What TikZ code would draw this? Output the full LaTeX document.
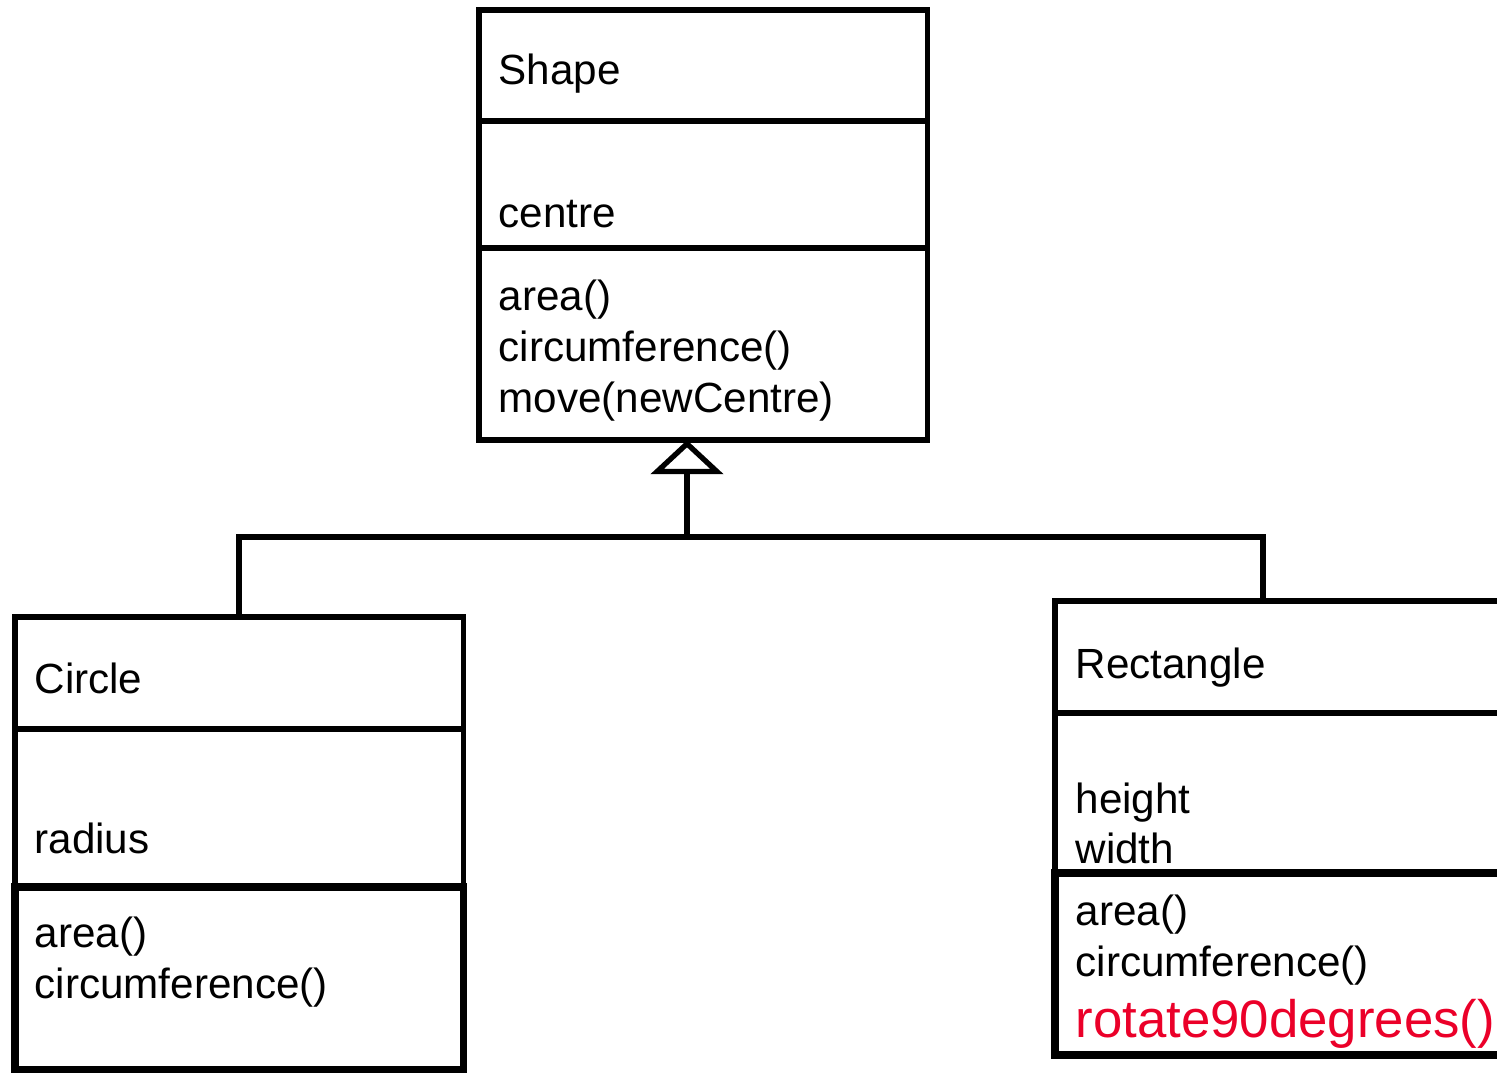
\documentclass[tikz,border=0pt]{standalone}
\usepackage{fontspec}
\setmainfont{Liberation Sans}
\usetikzlibrary{arrows.meta}
\definecolor{newred}{RGB}{235,0,41}

\begin{document}
\begin{tikzpicture}
  [x=0.01cm,y=-0.01cm,line width=1.5pt,
   box/.style={draw,rectangle,anchor=north west,inner sep=0pt,outer sep=0pt},
   opsbox/.style={box,line width=2.1pt},
   member/.style={anchor=base west,inner sep=0pt,font=\fontsize{12}{14.5}\selectfont},
   added/.style={member,text=newred,font=\fontsize{15}{18}\selectfont}]
  \useasboundingbox (0,0) rectangle (1497,1073);
  \clip (0,0) rectangle (1497,1073);

  % Shape
  \node[box,minimum width=4.48cm,minimum height=1.11cm] (shape-name) at (479,10) {};
  \node[box,minimum width=4.48cm,minimum height=1.27cm] (shape-attr) at (479,121) {};
  \node[box,minimum width=4.48cm,minimum height=1.92cm] (shape-ops) at (479,248) {};
  \node[member] (shape-label) at (496,85) {Shape};
  \node[member] (shape-centre) at (496,228) {centre};
  \foreach \txt [count=\i] in {area(),circumference(),move(newCentre)}
    \node[member] (shape-op\i) at (496,{310+51*(\i-1)}) {\txt};

  % Circle
  \node[box,minimum width=4.48cm,minimum height=1.12cm] (circle-name) at (15,617) {};
  \node[box,minimum width=4.48cm,minimum height=1.58cm] (circle-attr) at (15,729) {};
  \node[opsbox,minimum width=4.48cm,minimum height=1.83cm] (circle-ops) at (15,887) {};
  \node[member] (circle-label) at (32,693) {Circle};
  \node[member] (circle-radius) at (32,853) {radius};
  \foreach \txt [count=\i] in {area(),circumference()}
    \node[member] (circle-op\i) at (32,{947+51*(\i-1)}) {\txt};

  % Rectangle
  \node[box,minimum width=4.75cm,minimum height=1.12cm] (rect-name) at (1055,601) {};
  \node[box,minimum width=4.75cm,minimum height=1.60cm] (rect-attr) at (1055,713) {};
  \node[opsbox,minimum width=4.75cm,minimum height=1.82cm] (rect-ops) at (1055,873) {};
  \node[member] (rect-label) at (1073,678) {Rectangle};
  \node[member] (rect-height) at (1073,813) {height};
  \node[member] (rect-width) at (1073,863) {width};
  \foreach \txt [count=\i] in {area(),circumference()}
    \node[member] (rect-op\i) at (1073,{925+51*(\i-1)}) {\txt};
  \node[added] (rect-rotate) at (1073,1037) {rotate90degrees()};

  % generalisation
  \coordinate (bus) at (687,537);
  \coordinate (rect-top) at (1263,601);
  \draw (circle-name.north) |- (bus) -| (rect-top);
  \draw[-{Triangle[open,length=0.34cm,width=0.72cm]}] (bus) -- (bus |- shape-ops.south);

\end{tikzpicture}
\end{document}
